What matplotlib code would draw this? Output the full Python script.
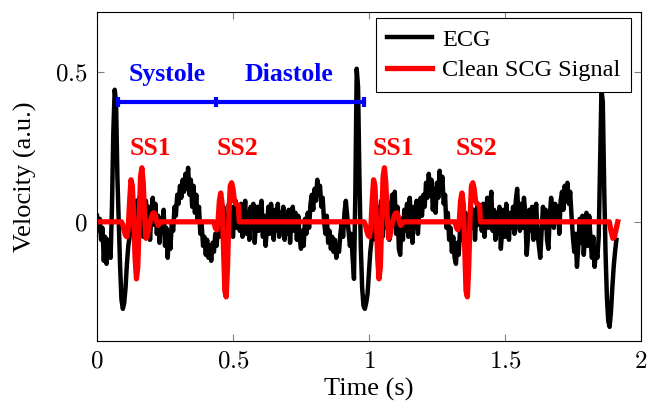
import numpy as np
import matplotlib.pyplot as plt

plt.rcParams['font.family'] = 'Liberation Serif'
plt.rcParams['mathtext.fontset'] = 'cm'

dt = 0.005
ecg_v = [
    0.02, -0.03, 0.01, -0.06, -0.02, -0.13, -0.05, -0.14, -0.06, -0.10, -0.12, 0.05, 0.30, 0.44, 0.40, 0.15, 0.00, -0.15, -0.26, -0.29,
    -0.27, -0.22, -0.14, -0.08, -0.05, 0.02, -0.04, 0.05, -0.02, 0.07, 0.01, 0.08, -0.03, 0.06, -0.05, 0.04, 0.07, -0.02, 0.05, -0.06,
    0.03, 0.08, -0.01, 0.06, -0.04, 0.02, -0.07, 0.01, -0.03, 0.04, -0.08, -0.02, -0.12, -0.04, -0.09, 0.00, -0.03, 0.05, 0.02, 0.09,
    0.06, 0.12, 0.08, 0.14, 0.10, 0.16, 0.11, 0.18, 0.09, 0.14, 0.05, 0.12, 0.03, 0.09, 0.00, 0.05, -0.04, -0.01, -0.08, -0.05,
    -0.11, -0.06, -0.12, -0.08, -0.13, -0.07, -0.10, -0.04, -0.08, 0.00, -0.05, 0.03, -0.02, 0.05, -0.06, 0.02, -0.04, 0.06, -0.01, 0.05,
    -0.05, 0.03, 0.07, -0.02, 0.04, -0.03, 0.06, -0.05, 0.02, 0.07, -0.04, 0.03, -0.06, 0.05, -0.02, 0.06, -0.07, 0.01, 0.05, -0.03,
    0.04, 0.07, -0.05, 0.02, -0.08, -0.02, 0.05, -0.04, 0.06, 0.00, -0.06, 0.04, -0.03, 0.06, -0.05, 0.03, -0.02, 0.05, -0.06, 0.02,
    -0.04, 0.04, -0.07, 0.01, 0.05, -0.03, 0.03, -0.06, 0.02, -0.05, -0.09, -0.03, -0.08, 0.01, -0.04, 0.03, -0.02, 0.06, 0.09, 0.04,
    0.11, 0.07, 0.14, 0.10, 0.12, 0.05, 0.08, 0.00, -0.04, 0.02, -0.07, -0.03, -0.09, -0.05, -0.10, -0.06, -0.12, -0.08, -0.10, -0.04,
    0.00, -0.05, 0.03, 0.07, 0.02, -0.03, -0.08, -0.04, -0.12, -0.19, 0.10, 0.51, 0.45, 0.15, -0.08, -0.22, -0.28, -0.29, -0.27, -0.24,
    -0.17, -0.10, -0.06, -0.02, 0.03, -0.06, 0.05, -0.08, 0.02, 0.07, -0.05, 0.04, 0.08, -0.02, 0.06, -0.06, 0.03, 0.09, 0.02, 0.10,
    -0.04, 0.05, -0.09, -0.11, 0.01, -0.06, 0.04, -0.03, 0.06, -0.05, 0.08, 0.01, -0.07, 0.05, -0.02, 0.07, -0.04, 0.03, 0.08, 0.02,
    0.09, 0.05, 0.13, 0.08, 0.16, 0.10, 0.14, 0.04, 0.11, 0.03, 0.13, 0.08, 0.17, 0.10, 0.15, 0.06, 0.09, -0.02, 0.03, -0.06,
    -0.02, -0.10, -0.05, -0.12, -0.14, -0.07, -0.11, -0.03, -0.06, 0.01, -0.04, 0.03, -0.05, 0.02, -0.03, 0.05, -0.02, 0.04, -0.06, 0.03,
    0.06, -0.01, 0.05, -0.03, 0.06, -0.05, 0.02, 0.08, -0.02, 0.05, 0.10, -0.03, 0.04, -0.06, 0.03, -0.04, 0.05, -0.09, -0.03, 0.04,
    -0.05, 0.06, 0.00, -0.06, 0.03, -0.02, 0.05, -0.04, 0.07, 0.11, 0.02, -0.03, 0.06, -0.02, 0.08, 0.03, -0.11, -0.05, 0.04, -0.03,
    0.05, -0.06, 0.02, 0.06, -0.04, -0.08, -0.12, -0.03, 0.05, -0.02, 0.04, -0.06, -0.09, 0.02, 0.08, 0.03, -0.02, 0.06, 0.00, 0.05,
    -0.04, 0.07, 0.10, 0.04, 0.12, 0.07, 0.13, 0.06, 0.10, 0.02, -0.05, -0.10, -0.04, -0.15, -0.08, 0.01, -0.07, 0.02, -0.11, -0.04,
    0.03, -0.08, 0.02, -0.06, -0.12, -0.05, -0.15, -0.09, -0.12, -0.05, 0.20, 0.44, 0.40, 0.12, -0.10, -0.25, -0.33, -0.35, -0.30, -0.22,
    -0.15, -0.10, -0.06,
]
ecg_t = np.arange(len(ecg_v)) * dt

# clean SCG: flat, with the SS1 / SS2 bursts
scg_t = [0.0,
         0.090, 0.095, 0.100, 0.105, 0.110, 0.115, 0.120, 0.125, 0.130, 0.135, 0.140, 0.145, 0.150, 0.155,
         0.160, 0.165, 0.170, 0.175, 0.180, 0.185, 0.190, 0.195, 0.200, 0.205, 0.210, 0.215, 0.220, 0.225, 0.230, 0.235,
         0.430, 0.435, 0.440, 0.445, 0.450, 0.455, 0.460, 0.465, 0.470, 0.475, 0.480, 0.485, 0.490, 0.495,
         0.500, 0.505, 0.510, 0.520, 0.523,
         0.982, 0.987, 0.992, 0.997, 1.002, 1.007, 1.012, 1.017, 1.022, 1.027, 1.032, 1.037, 1.042, 1.047,
         1.052, 1.057, 1.062, 1.067, 1.072, 1.077, 1.082, 1.087, 1.092, 1.097, 1.102, 1.107, 1.112, 1.117, 1.122, 1.127,
         1.317, 1.322, 1.327, 1.332, 1.337, 1.342, 1.347, 1.352, 1.357, 1.362, 1.367, 1.372, 1.377, 1.382,
         1.387, 1.392, 1.397, 1.407, 1.410,
         1.884, 1.890, 1.897, 1.903, 1.910, 1.915]
scg_v = [0.0,
         0.0, -0.01, -0.03, -0.045, -0.05, -0.02, 0.07, 0.14, 0.12, 0.02, -0.12, -0.19, -0.15, 0.0,
         0.15, 0.18, 0.13, 0.02, -0.055, -0.05, -0.02, 0.0, 0.015, 0.028, 0.03, 0.02, 0.0, -0.012, -0.005, 0.0,
         0.0, -0.02, -0.027, 0.0, 0.07, 0.096, 0.06, -0.08, -0.23, -0.25, -0.15, 0.02, 0.12, 0.13,
         0.11, 0.07, 0.06, 0.055, 0.0,
         0.0, -0.01, -0.03, -0.045, -0.05, -0.02, 0.07, 0.14, 0.12, 0.02, -0.12, -0.19, -0.15, 0.0,
         0.15, 0.18, 0.13, 0.02, -0.055, -0.05, -0.02, 0.0, 0.015, 0.028, 0.03, 0.02, 0.0, -0.012, -0.005, 0.0,
         0.0, -0.02, -0.027, 0.0, 0.07, 0.096, 0.06, -0.08, -0.23, -0.25, -0.15, 0.02, 0.12, 0.13,
         0.11, 0.07, 0.06, 0.055, 0.0,
         0.0, -0.03, -0.055, -0.05, -0.02, 0.0]

# systole / diastole bar and labels
phase_t = [0.078, 0.439, 0.981]
phase_y = 0.40
phase_names = ['Systole', 'Diastole']
phase_label_t = [0.257, 0.704]
sound_names = ['SS1', 'SS2', 'SS1', 'SS2']
sound_t = [0.196, 0.516, 1.091, 1.395]

fig = plt.figure(figsize=(6.48, 4.09), dpi=100)
ax = fig.add_axes([0.1497, 0.1663, 0.8393, 0.8044])

ax.plot(ecg_t, ecg_v, color='black', lw=3.2, label='ECG')
ax.plot(scg_t, scg_v, color='red', lw=3.8, label='Clean SCG Signal')
ax.plot(phase_t, [phase_y] * len(phase_t), color='blue', lw=3, marker='|', ms=7, mew=3)

for name, t in zip(phase_names, phase_label_t):
    ax.text(t, 0.47, name, color='blue', fontsize=18.5, fontweight='bold',
            ha='center', va='baseline')
for name, t in zip(sound_names, sound_t):
    ax.text(t, 0.222, name, color='red', fontsize=18.5, fontweight='bold',
            ha='center', va='baseline')

ax.set_xlim(0, 2)
ax.set_ylim(-0.397, 0.699)
ax.set_xticks([0, 0.5, 1, 1.5, 2])
ax.set_xticklabels(['$0$', '$0.5$', '$1$', '$1.5$', '$2$'])
ax.set_yticks([0, 0.5])
ax.set_yticklabels(['$0$', '$0.5$'])
ax.tick_params(direction='in', top=True, right=True, length=5, width=0.8,
               color='gray', labelsize=18, pad=7)
for s in ax.spines.values():
    s.set_linewidth(0.8)

ax.set_xlabel('Time (s)', fontsize=19, labelpad=4)
ax.set_ylabel('Velocity (a.u.)', fontsize=19, labelpad=13)

leg = ax.legend(loc='upper right', bbox_to_anchor=(0.982, 0.982), borderaxespad=0,
                fontsize=17.5, handlelength=1.85, fancybox=False, framealpha=1,
                edgecolor='black', borderpad=0.45, labelspacing=0.35, handletextpad=0.4)
leg.get_frame().set_linewidth(0.8)

fig.savefig('out.png', dpi=100)
